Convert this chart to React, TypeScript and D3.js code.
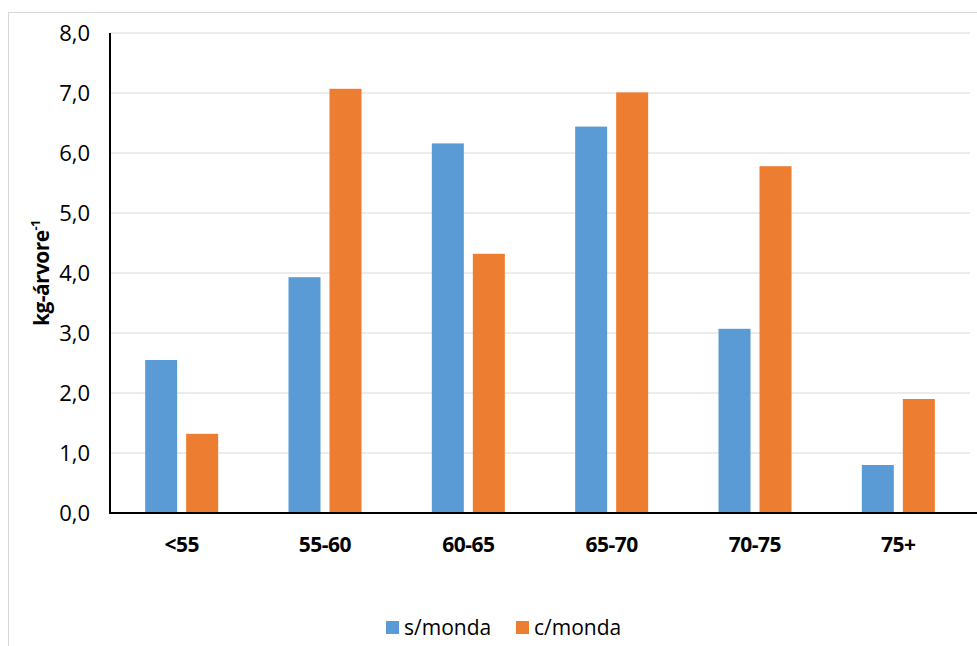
import React from "react";
import * as d3 from "d3";

const categories = ["<55", "55-60", "60-65", "65-70", "70-75", "75+"];
const semMonda = [2.55, 3.93, 6.16, 6.44, 3.07, 0.8];
const comMonda = [1.32, 7.07, 4.32, 7.01, 5.78, 1.9];
const seriesNames = ["s/monda", "c/monda"];
const seriesColors = ["#5B9BD5", "#ED7D31"];
const yTicks = [0, 1, 2, 3, 4, 5, 6, 7, 8];

const W = 977;
const H = 646;
const left = 110;
const right = 970;
const top = 33;
const bottom = 513;
const FONT = "'Open Sans', 'Noto Sans', sans-serif";

export default function App() {
  const x = d3.scaleBand<string>().domain(categories).range([left, right]).paddingInner(0).paddingOuter(0);
  const y = d3.scaleLinear().domain([0, 8]).range([bottom, top]);
  const barW = 32;
  const gap = 9;
  const fmt = (v: number) => v.toFixed(1).replace(".", ",");
  const series = [semMonda, comMonda];

  return (
    <svg width={W} height={H} style={{ position: "absolute", left: 0, top: 0, background: "#fff" }} fontFamily={FONT}>
      <rect x={8.5} y={12.5} width={1000} height={700} fill="#fff" stroke="#D9D9D9" strokeWidth={1} />
      {yTicks.map((t) => (
        <g key={t}>
          {t > 0 && <line x1={left} x2={right} y1={y(t)} y2={y(t)} stroke="#D9D9D9" strokeWidth={1} />}
          <text x={90} y={y(t) + 7.5} textAnchor="end" fontSize={22} fill="#000">
            {fmt(t)}
          </text>
        </g>
      ))}
      {categories.map((c, i) => {
        const cx = (x(c) as number) + x.bandwidth() / 2;
        return (
          <g key={c}>
            {series.map((vals, s) => {
              const bx = s === 0 ? cx - gap / 2 - barW : cx + gap / 2;
              return (
                <rect
                  key={s}
                  x={bx}
                  y={y(vals[i])}
                  width={barW}
                  height={y(0) - y(vals[i])}
                  fill={seriesColors[s]}
                />
              );
            })}
            <text x={cx} y={552} textAnchor="middle" fontSize={21} fontWeight="bold" fill="#000" letterSpacing={-0.5}>
              {c}
            </text>
          </g>
        );
      })}
      <line x1={left} x2={left} y1={top} y2={bottom + 1} stroke="#000" strokeWidth={2} />
      <line x1={left} x2={right + 7} y1={bottom} y2={bottom} stroke="#000" strokeWidth={2} />
      <text
        transform={`translate(49,${(top + bottom) / 2}) rotate(-90)`}
        textAnchor="middle"
        fontSize={21}
        fontWeight="bold"
        fill="#000"
        letterSpacing={-0.6}
      >
        kg-árvore
        <tspan dy={-9} fontSize={13}>-1</tspan>
      </text>
      {seriesNames.map((n, s) => {
        const lx = s === 0 ? 386 : 516;
        return (
          <g key={n}>
            <rect x={lx} y={621} width={13} height={13} fill={seriesColors[s]} />
            <text x={lx + 18} y={635} fontSize={21} fill="#000">
              {n}
            </text>
          </g>
        );
      })}
    </svg>
  );
}
